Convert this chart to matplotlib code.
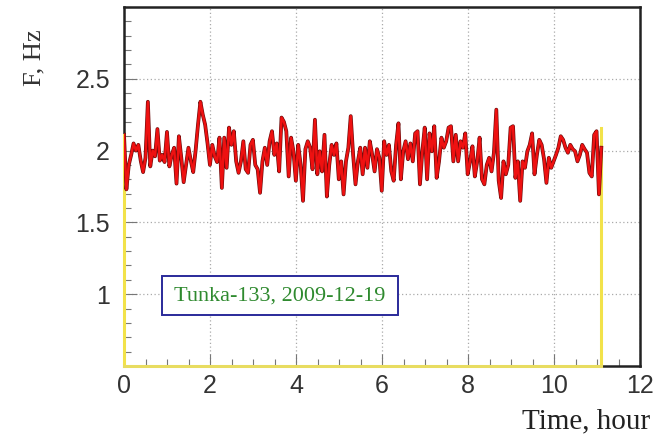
import matplotlib
matplotlib.use("Agg")
import matplotlib.pyplot as plt
from matplotlib.patches import Rectangle
from matplotlib.ticker import MultipleLocator
import numpy as np

# Tunka-133 trigger rate, 2009-12-19 (Hz), one value per time bin
freq_a = [2.11, 1.73, 1.90, 1.97, 2.05, 2.00, 2.04, 1.93, 1.85, 1.95, 2.34, 1.89,
          2.00, 1.96, 2.15, 1.93, 1.97, 1.92, 2.13, 1.89, 1.97, 2.02, 1.77, 2.10,
          1.95, 1.78, 1.90, 2.02, 1.93, 1.85, 2.00, 2.18, 2.34, 2.25, 2.18, 2.05,
          1.90, 2.04, 1.96, 1.92]
freq_b = [2.09, 1.74, 2.09, 1.88, 2.16, 2.04, 2.135, 1.925, 1.845, 1.925, 2.065, 1.87,
          1.845, 2.04, 2.075, 1.90, 1.87, 1.706, 1.925, 2.02, 1.90, 2.065, 2.135, 1.97,
          2.05, 1.855, 2.23, 2.20, 2.135, 1.82, 2.09, 1.995, 1.79, 2.04, 1.90, 1.65,
          2.01, 2.065]
freq_c = [2.02, 1.87, 2.215, 1.835, 1.995, 1.855, 2.11, 1.68, 1.90, 2.04, 1.97, 2.05,
          1.80, 1.925, 1.695, 1.925, 2.02, 2.24, 1.97, 1.765, 1.925, 2.02, 1.835, 2.02,
          1.88, 2.065, 1.97, 1.855, 2.01, 1.95, 1.72, 2.065, 1.97, 2.04, 1.855, 1.79,
          2.04, 2.19, 1.80, 1.995]
freq_d = [2.065, 1.94, 2.05, 1.925, 2.12, 2.135, 1.765, 1.995, 2.16, 1.80, 2.12, 1.995,
          2.17, 1.81, 1.925, 2.09, 2.02, 2.065, 2.16, 2.17, 1.925, 2.11, 1.925, 2.065,
          2.02, 2.12, 1.835, 1.925, 2.03, 1.82, 1.925, 2.09, 1.80, 1.765, 1.90, 1.95,
          1.855, 1.985, 2.285, 1.79, 1.67, 1.925]
freq_e = [1.835, 1.90, 2.16, 2.17, 1.81, 1.925, 1.65, 1.925, 1.88, 1.995, 2.04, 2.12,
          1.835, 1.97, 2.075, 2.04, 1.94, 1.775, 1.95, 1.88, 1.925, 1.97, 2.02, 2.10,
          2.075, 2.02, 1.985, 2.04, 2.01, 1.995, 1.925, 1.97, 2.04, 2.01, 1.985, 1.845,
          1.82, 2.11, 2.135, 1.695, 2.02]
freq = freq_a + freq_b + freq_c + freq_d + freq_e

t_start, t_stop = 0.0, 11.1      # hours
edge_left, edge_right = 2.11, 2.16
label = "Tunka-133, 2009-12-19"

time = np.linspace(t_start, t_stop, len(freq))

fig = plt.figure(figsize=(6.66, 4.34), dpi=100)
ax = fig.add_axes([0.1862, 0.1567, 0.7748, 0.8272])

ax.set_xlim(0, 12)
ax.set_ylim(0.5, 3.0)

# histogram outline (yellow) at the edges of the run
ax.plot([t_start, t_start], [0.5, edge_left], color="#f2e24a", lw=2.2, zorder=3, clip_on=False)
ax.plot([t_stop, t_stop], [0.5, edge_right], color="#f2e24a", lw=2.2, zorder=3, clip_on=False)
ax.plot([t_start, t_stop], [0.5, 0.5], color="#e8dc60", lw=2.2, zorder=3, clip_on=False)

# rate curve with a dark edge
ax.plot(time, freq, color="#6a0a0a", lw=2.7, zorder=4)
ax.plot(time, freq, color="#ee1111", lw=1.8, zorder=5)

# ROOT-like frame and ticks
for s in ax.spines.values():
    s.set_linewidth(1.8)
    s.set_color("#222222")
ax.xaxis.set_major_locator(MultipleLocator(2))
ax.xaxis.set_minor_locator(MultipleLocator(0.5))
ax.yaxis.set_major_locator(MultipleLocator(0.5))
ax.yaxis.set_minor_locator(MultipleLocator(0.1))
ax.set_yticks([1.0, 1.5, 2.0, 2.5])
ax.set_yticklabels(["1", "1.5", "2", "2.5"])
ax.set_xticks([0, 2, 4, 6, 8, 10, 12])
ax.set_xticklabels(["0", "2", "4", "6", "8", "10", "12"])
ax.tick_params(which="major", direction="in", length=9, width=0.8, color="#777777",
               labelsize=18, labelcolor="#333333")
ax.tick_params(which="minor", direction="in", length=5, width=0.8, color="#777777")
ax.tick_params(axis="y", pad=10)
ax.tick_params(axis="x", pad=6)
for lab in ax.get_xticklabels() + ax.get_yticklabels():
    lab.set_family("Liberation Sans")

ax.grid(True, which="major", color="#aaaaaa", linestyle=(0, (1, 2)), linewidth=0.9)
ax.set_axisbelow(True)

# label box
box_x0, box_y0, box_w, box_h = 0.88, 0.854, 5.49, 0.271
ax.add_patch(Rectangle((box_x0, box_y0), box_w, box_h, facecolor="white",
                       edgecolor="#2a2a9a", lw=1.4, zorder=6))
ax.text(box_x0 + box_w / 2, box_y0 + box_h / 2, label, ha="center", va="center",
        family="Liberation Serif", fontsize=16, color="#2f8a2f", zorder=7)

fig.text(34 / 666, 1 - 58 / 434, "F, Hz", rotation=90, ha="center", va="center",
         family="Liberation Serif", fontsize=19, color="#333333")
fig.text(650 / 666, 1 - 421 / 434, "Time, hour", ha="right", va="center",
         family="Liberation Serif", fontsize=21, color="#222222")

fig.savefig("out.png", dpi=100)
